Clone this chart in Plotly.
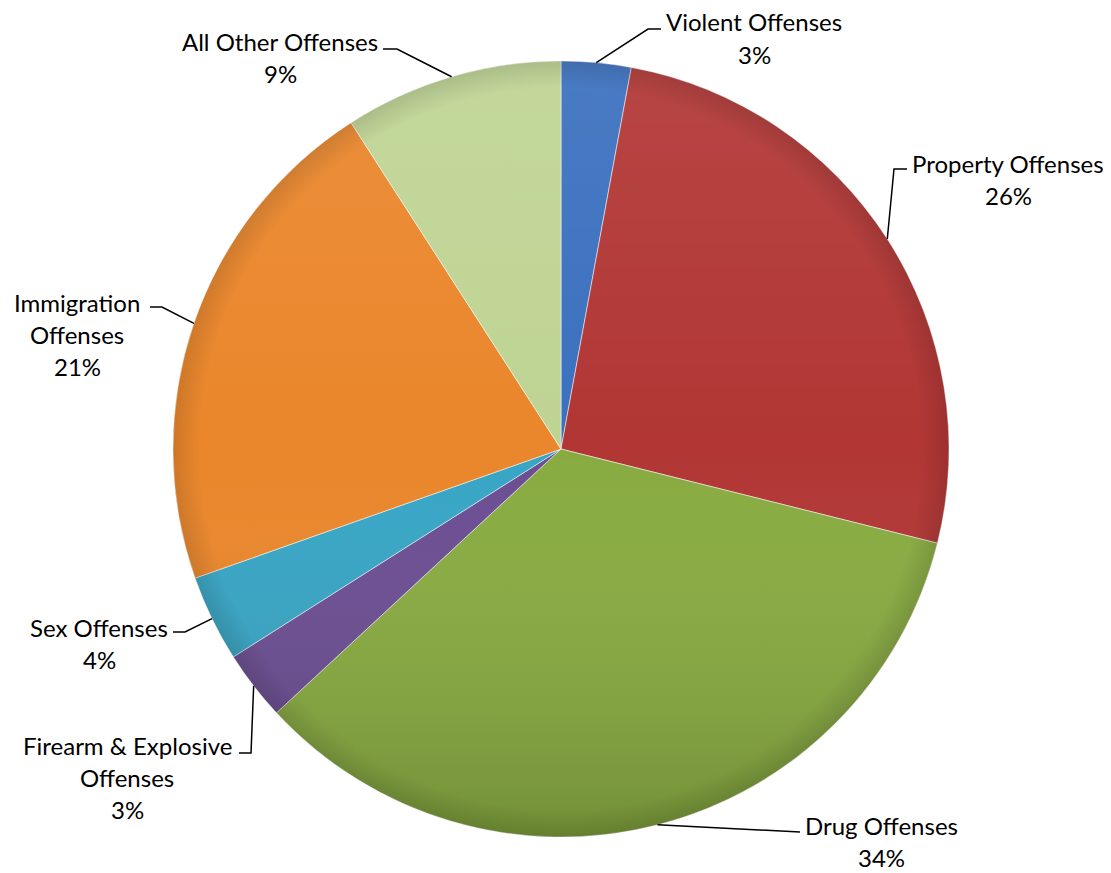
import math, base64
import plotly.graph_objects as go

# ---- data ----
categories = ["Violent Offenses", "Property Offenses", "Drug Offenses",
              "Firearm & Explosive Offenses", "Sex Offenses",
              "Immigration Offenses", "All Other Offenses"]
values = [2.9, 26.0, 34.2, 2.9, 3.6, 21.3, 9.1]
label_text = ["Violent Offenses", "Property Offenses", "Drug Offenses",
              "Firearm & Explosive<br>Offenses", "Sex Offenses",
              "Immigration<br>Offenses", "All Other Offenses"]
colors = ["#3a70bf", "#b13634", "#88ab40", "#6b4d92", "#37a5c5", "#ea862b", "#bed493"]

# ---- layout (page pixels; page body has an 8px margin) ----
W, H = 1111, 873
OFF = 8
CX, CY, R = 561, 449, 388
LINE_GAP = 32
label_pos = [(754, 22), (1008, 163), (881, 825), (127, 745), (99, 627), (77, 302), (280, 42)]
elbow = [(648, 29), (894, 169), (800, 832), (251, 753), (185, 632), (162, 307), (397, 49)]
tail = [(661, 29), (907, 169), (800, 832), (239, 753), (173, 632), (150, 307), (383, 49)]
FONT = dict(family="Lato, 'Open Sans', sans-serif", size=24, color="black")

def px(x):
    return (x - OFF) / W

def py(y):
    return 1 - (y - OFF) / H

fig = go.Figure(go.Pie(
    labels=categories, values=values, sort=False, direction="clockwise",
    rotation=0, textinfo="none", hoverinfo="label+percent",
    marker=dict(colors=colors, line=dict(color="rgba(255,255,255,0.5)", width=1)),
    domain=dict(x=[px(CX - R), px(CX + R)], y=[py(CY + R), py(CY - R)]),
    showlegend=False,
))

total = sum(values)
cum = 0.0
annotations = []
shapes = []
for i, v in enumerate(values):
    mid = 2 * math.pi * (cum + v / 2) / total
    cum += v
    ex, ey = CX + R * math.sin(mid), CY - R * math.cos(mid)
    bx, by = elbow[i]
    tx, ty = tail[i]
    path = f"M {px(ex)} {py(ey)} L {px(bx)} {py(by)} L {px(tx)} {py(ty)}"
    shapes.append(dict(type="path", xref="paper", yref="paper", path=path,
                       line=dict(color="black", width=1.5)))
    pct = f"{round(v / total * 100)}%"
    lines = label_text[i].split("<br>") + [pct]
    lx, ly = label_pos[i]
    for k, t in enumerate(lines):
        annotations.append(dict(x=px(lx), y=py(ly + k * LINE_GAP), xref="paper", yref="paper",
                                text=t, showarrow=False, xanchor="center", yanchor="middle",
                                font=FONT))

# subtle vertical shading overlay (light top, darker bottom) like the original 3-D style
svg = '''<svg xmlns="http://www.w3.org/2000/svg" width="200" height="200" viewBox="0 0 200 200">
<defs><linearGradient id="g" x1="0" y1="0" x2="0" y2="1">
<stop offset="0" stop-color="#ffffff" stop-opacity="0.08"/>
<stop offset="0.5" stop-color="#ffffff" stop-opacity="0"/>
<stop offset="1" stop-color="#000000" stop-opacity="0.16"/></linearGradient>
<radialGradient id="r" cx="0.5" cy="0.5" r="0.5">
<stop offset="0.93" stop-color="#000" stop-opacity="0"/>
<stop offset="1" stop-color="#000" stop-opacity="0.12"/></radialGradient></defs>
<circle cx="100" cy="100" r="100" fill="url(#g)"/>
<circle cx="100" cy="100" r="100" fill="url(#r)"/></svg>'''
src = "data:image/svg+xml;base64," + base64.b64encode(svg.encode()).decode()

fig.update_layout(
    width=W, height=H, margin=dict(l=0, r=0, t=0, b=0),
    paper_bgcolor="white", plot_bgcolor="white",
    annotations=annotations, shapes=shapes,
    images=[dict(source=src, xref="paper", yref="paper", x=px(CX - R), y=py(CY - R),
                 sizex=2 * R / W, sizey=2 * R / H, xanchor="left", yanchor="top",
                 sizing="stretch", layer="above")],
)
fig.write_html("out.html")
